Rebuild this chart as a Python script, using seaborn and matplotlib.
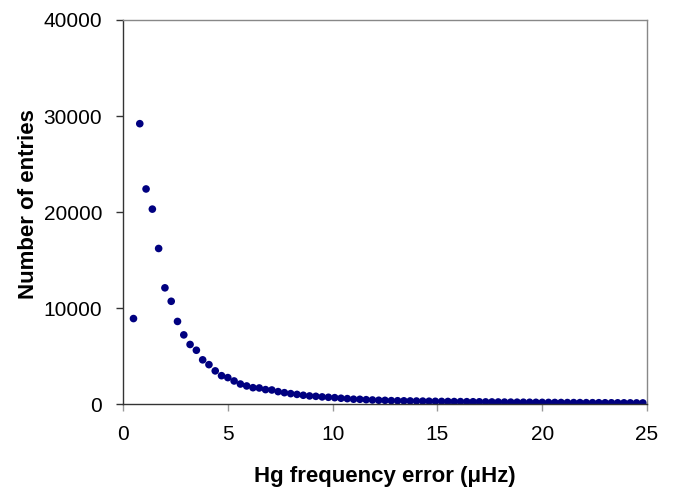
import numpy as np
import pandas as pd
import seaborn as sns
import matplotlib
matplotlib.use("Agg")
import matplotlib.pyplot as plt

# frequency error bins (uHz), step 0.3
freq_err = [round(0.5 + 0.3 * k, 1) for k in range(82)]

# number of entries
entries = [
    8900, 29200, 22400, 20300, 16200, 12100, 10700, 8600, 7200, 6200,
    5600, 4600, 4100, 3450, 2950, 2750, 2400, 2080, 1880, 1700,
    1670, 1500, 1460, 1290, 1180, 1080, 1000, 910, 840, 800,
    740, 700, 660, 600, 560, 500, 490, 450, 420, 390,
    380, 350, 340, 330, 320, 310, 300, 290, 280, 270,
    265, 255, 250, 240, 235, 230, 220, 215, 210, 200,
    195, 190, 185, 180, 175, 170, 165, 160, 155, 150,
    148, 145, 140, 137, 134, 130, 127, 124, 121, 118,
    115, 112,
]

df = pd.DataFrame({"freq_err": freq_err, "entries": entries})

sns.set_style("white")
plt.rcParams["font.family"] = ["Liberation Sans", "DejaVu Sans"]

fig = plt.figure(figsize=(6.74, 5), dpi=100)
ax = fig.add_axes([0.1825, 0.192, 0.7775, 0.768])

sns.scatterplot(data=df, x="freq_err", y="entries", ax=ax,
                color="#000080", s=30, edgecolor="none", linewidth=0)

ax.set_xlim(0, 25)
ax.set_ylim(0, 40000)
ax.set_xticks([0, 5, 10, 15, 20, 25])
ax.set_yticks([0, 10000, 20000, 30000, 40000])

ax.set_xlabel("Hg frequency error (\u03bcHz)", fontsize=16, fontweight="bold",
              color="black", labelpad=16)
ax.set_ylabel("Number of entries", fontsize=16, fontweight="bold",
              color="black", labelpad=3)
ax.yaxis.label.set_y(0.52)

for side in ["left", "bottom"]:
    ax.spines[side].set_color("#333333")
    ax.spines[side].set_linewidth(1.0)
for side in ["top", "right"]:
    ax.spines[side].set_color("#888888")
    ax.spines[side].set_linewidth(1.0)

ax.tick_params(axis="both", labelsize=15, labelcolor="black", length=5, width=1,
               direction="out", pad=10)
ax.tick_params(axis="y", left=True, color="#333333")
ax.tick_params(axis="x", bottom=True, color="#999999")

fig.savefig("out.png", dpi=100)
